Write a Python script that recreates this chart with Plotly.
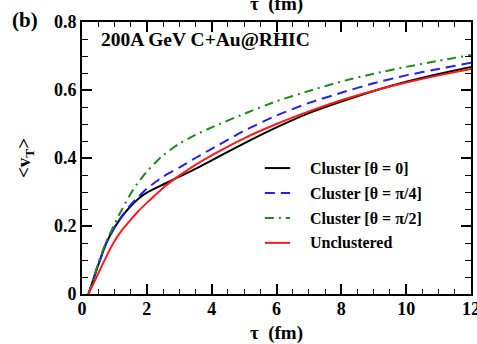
import plotly.graph_objects as go

# Proper time (fm) sampled along each curve
tau = [0.2, 0.5, 0.75, 1.0, 1.25, 1.5, 1.75, 2.0, 2.5, 3.0, 3.5, 4.0,
       5.0, 6.0, 7.0, 8.0, 9.0, 10.0, 11.0, 12.0]

# Mean transverse velocity <v_T> for each initial condition
vt_theta0 = [0.0, 0.085, 0.15, 0.195, 0.23, 0.258, 0.281, 0.298, 0.322, 0.345,
             0.368, 0.393, 0.443, 0.49, 0.532, 0.566, 0.597, 0.624, 0.647, 0.668]
vt_theta_pi4 = [0.0, 0.085, 0.15, 0.196, 0.232, 0.262, 0.287, 0.31, 0.345, 0.372,
                0.40, 0.427, 0.48, 0.525, 0.562, 0.592, 0.62, 0.643, 0.662, 0.68]
vt_theta_pi2 = [0.0, 0.09, 0.155, 0.205, 0.252, 0.295, 0.33, 0.36, 0.408, 0.442,
                0.468, 0.49, 0.53, 0.567, 0.597, 0.625, 0.648, 0.668, 0.686, 0.703]
vt_unclustered = [0.0, 0.06, 0.11, 0.155, 0.19, 0.218, 0.245, 0.268, 0.312, 0.348,
                  0.38, 0.408, 0.458, 0.5, 0.537, 0.57, 0.598, 0.622, 0.643, 0.662]

series_names = ["Cluster [θ = 0]", "Cluster [θ = π/4]",
                "Cluster [θ = π/2]", "Unclustered"]
series_values = [vt_theta0, vt_theta_pi4, vt_theta_pi2, vt_unclustered]
series_colors = ["#000000", "#1f1fff", "#1a8c1a", "#ff1a1a"]
series_dashes = ["solid", "10px,6px", "9px,5px,2px,5px", "solid"]

x_ticks = [0, 2, 4, 6, 8, 10, 12]
y_ticks = [0, 0.2, 0.4, 0.6, 0.8]
y_tick_labels = ["0", "0.2", "0.4", "0.6", "0.8"]

FONT = "Liberation Serif"

fig = go.Figure()
for name, vals, col, dash in zip(series_names, series_values, series_colors, series_dashes):
    fig.add_trace(go.Scatter(
        x=tau, y=vals, mode="lines", name=name,
        line=dict(color=col, width=2, dash=dash, shape="spline", smoothing=0.6),
        showlegend=False,
    ))

# Transparent copy on the top / right axes so their tick marks get drawn
fig.add_trace(go.Scatter(x=tau, y=vt_theta0, xaxis="x2", yaxis="y2",
                         mode="lines", opacity=0, showlegend=False, hoverinfo="skip"))

# Hand-placed legend block (sample line + label per series)
leg_x0, leg_x1, leg_text_x = 0.470, 0.535, 0.582
leg_y = [0.463, 0.371, 0.279, 0.188]
for name, col, dash, yy in zip(series_names, series_colors, series_dashes, leg_y):
    fig.add_shape(type="line", xref="paper", yref="paper",
                  x0=leg_x0, x1=leg_x1, y0=yy, y1=yy,
                  line=dict(color=col, width=2, dash=dash))
    fig.add_annotation(xref="paper", yref="paper", x=leg_text_x, y=yy,
                       xanchor="left", yanchor="middle", showarrow=False,
                       text=f"<b>{name}</b>",
                       font=dict(family=FONT, size=16, color="black"))

fig.add_annotation(xref="paper", yref="paper", x=0.044, y=0.98,
                   xanchor="left", yanchor="top", showarrow=False,
                   text="<b>200A GeV C+Au@RHIC</b>",
                   font=dict(family=FONT, size=19.5, color="black"))

fig.add_annotation(xref="paper", yref="paper", x=-0.147, y=1.007,
                   xanchor="center", yanchor="middle", showarrow=False,
                   text="<b>(b)</b>",
                   font=dict(family=FONT, size=21, color="black"))

# Axis title of the panel above, running off the top edge
fig.add_annotation(xref="paper", yref="paper", x=0.5, y=1.02,
                   xanchor="center", yanchor="bottom", showarrow=False,
                   text="<b>τ  (fm)</b>",
                   font=dict(family=FONT, size=19, color="black"))

tick_common = dict(
    showgrid=False, zeroline=False, ticks="inside", tickcolor="black",
    tickwidth=1.5, ticklen=10, automargin=False,
    tickfont=dict(family=FONT, size=18, color="black"),
)

fig.update_layout(
    xaxis=dict(
        range=[0, 12], tickvals=x_ticks, ticktext=[f"<b>{v}</b>" for v in x_ticks],
        showline=True, linecolor="black", linewidth=2, mirror="allticks",
        ticklabeloverflow="allow", ticklabelstandoff=-3,
        minor=dict(dtick=0.5, ticks="inside", ticklen=5, tickwidth=1.2, tickcolor="black"),
        title=dict(text="<b>τ  (fm)</b>", font=dict(family=FONT, size=19, color="black"),
                   standoff=12),
        **tick_common,
    ),
    yaxis=dict(
        range=[0, 0.8], tickvals=y_ticks, ticktext=[f"<b>{t}</b>" for t in y_tick_labels],
        showline=True, linecolor="black", linewidth=2, mirror="allticks",
        ticklabeloverflow="allow",
        minor=dict(dtick=0.05, ticks="inside", ticklen=6, tickwidth=1.2, tickcolor="black"),
        title=dict(text="<b>&lt;v<sub>T</sub>&gt;</b>",
                   font=dict(family=FONT, size=19, color="black"), standoff=18),
        **tick_common,
    ),
    xaxis2=dict(
        overlaying="x", side="top", anchor="y", range=[0, 12], tickvals=x_ticks,
        showticklabels=False, showline=False,
        minor=dict(dtick=0.5, ticks="inside", ticklen=5, tickwidth=1.2, tickcolor="black"),
        **tick_common,
    ),
    yaxis2=dict(
        overlaying="y", side="right", anchor="x", range=[0, 0.8], tickvals=y_ticks,
        showticklabels=False, showline=False,
        minor=dict(dtick=0.05, ticks="inside", ticklen=6, tickwidth=1.2, tickcolor="black"),
        **tick_common,
    ),
    width=477, height=344,
    margin=dict(l=82, r=6, t=22, b=50),
    plot_bgcolor="white", paper_bgcolor="white",
    showlegend=False,
)

fig.write_html("out.html")
